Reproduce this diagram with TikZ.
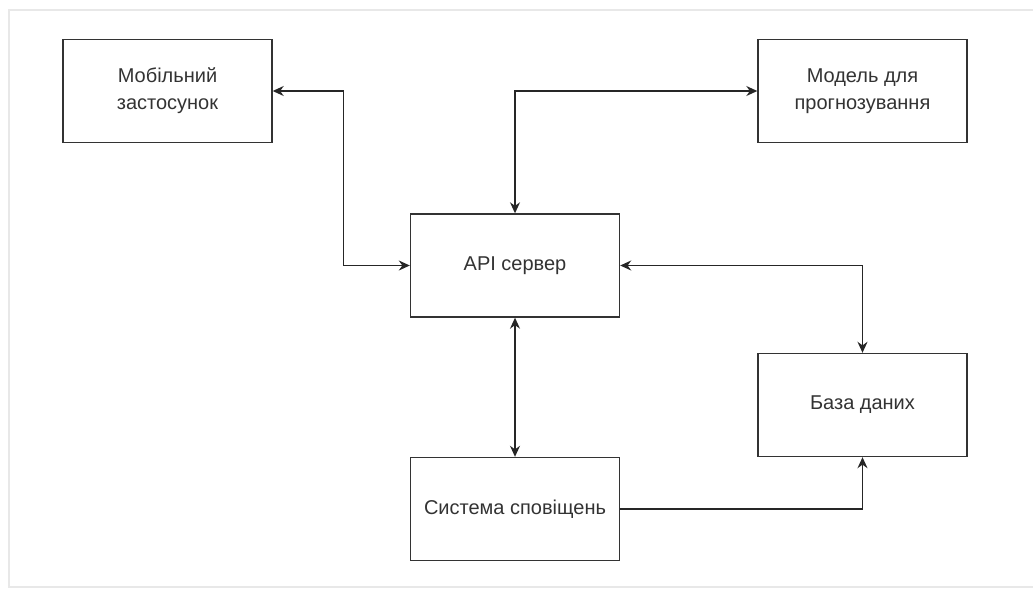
\documentclass[tikz,border=0pt]{standalone}
\usepackage{fontspec}
\setmainfont{Liberation Sans}
\usetikzlibrary{arrows.meta}

\tikzset{
  block/.style={draw=black!80, line width=1.4pt, fill=white, minimum width=209pt,
    minimum height=103pt, align=center, text=black!80, font=\fontsize{20}{27}\selectfont},
  link/.style={draw=black!85, line width=1.4pt, {Stealth[length=11pt,width=10pt]}-{Stealth[length=11pt,width=10pt]}},
  onelink/.style={draw=black!85, line width=1.4pt, -{Stealth[length=11pt,width=10pt]}}
}

\begin{document}
\begin{tikzpicture}[x=1pt,y=-1pt]
  \useasboundingbox (0,0) rectangle (1033,589);
  \draw[gray!18, line width=2pt] (1033,10) -- (9,10) -- (9,587) -- (1033,587);

  \node[block] (mob) at (167.5,91) {Мобільний\\застосунок};
  \node[block] (model) at (862.5,91) {Модель для\\прогнозування};
  \node[block] (api) at (515,265.5) {API сервер};
  \node[block] (db) at (862.5,405) {База даних};
  \node[block] (notif) at (515,509) {Система сповіщень};

  \draw[link] (mob.east) -- ++(71,0) |- (api.west);
  \draw[link] (api.north) |- (model.west);
  \draw[link] (api.east) -| (db.north);
  \draw[link] (api.south) -- (notif.north);
  \draw[onelink] (notif.east) -| (db.south);
\end{tikzpicture}
\end{document}
